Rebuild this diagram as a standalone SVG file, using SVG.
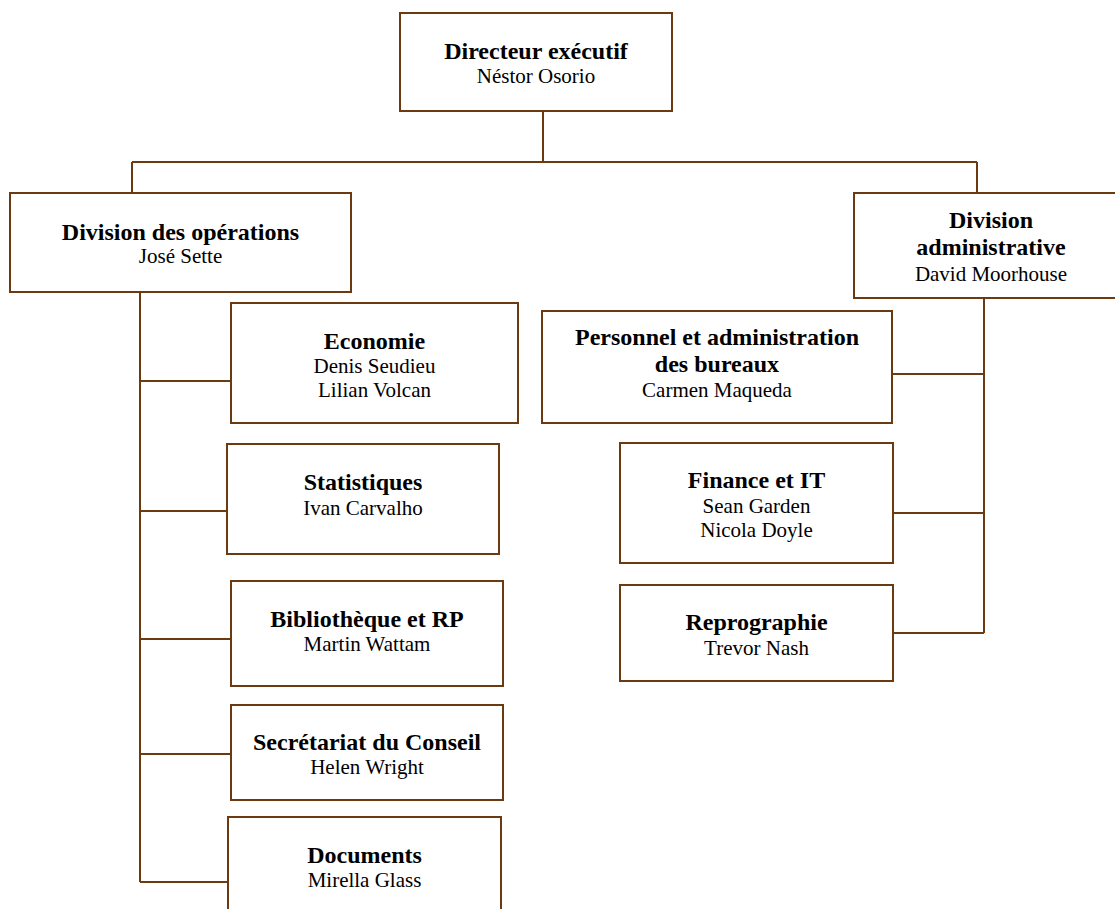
<svg xmlns="http://www.w3.org/2000/svg" width="1115" height="909" viewBox="0 0 1115 909">
<style>
.box{fill:#fff;stroke:#6b3a10;stroke-width:2}
.ln{fill:none;stroke:#6b3a10;stroke-width:2}
.t{font-family:"Liberation Serif","Times New Roman",serif;font-weight:bold;font-size:24px;fill:#000;text-anchor:middle}
.s{font-family:"Liberation Serif","Times New Roman",serif;font-size:21px;fill:#000;text-anchor:middle}
</style>
<rect width="1115" height="909" fill="#fff"/>
<g id="connectors">
<path class="ln" d="M543 111V162M132 162H977M132 162V193M977 162V193"/>
<path class="ln" d="M140 292V882M140 381H231M140 511H227M140 639H231M140 754H231M140 882H228"/>
<path class="ln" d="M984 298V633M892 374H984M893 513H984M893 633H984"/>
</g>
<g id="directeur">
<rect class="box" x="400" y="13" width="272" height="98"/>
<text class="t" x="536" y="59">Directeur exécutif</text>
<text class="s" x="536" y="83">Néstor Osorio</text>
</g>
<g id="operations">
<rect class="box" x="10" y="193" width="341" height="99"/>
<text class="t" x="180.5" y="240">Division des opérations</text>
<text class="s" x="180.5" y="263">José Sette</text>
</g>
<g id="administrative">
<rect class="box" x="854" y="193" width="274" height="105"/>
<text class="t" x="991" y="228">Division</text>
<text class="t" x="991" y="255">administrative</text>
<text class="s" x="991" y="281">David Moorhouse</text>
</g>
<g id="economie">
<rect class="box" x="231" y="303" width="287" height="120"/>
<text class="t" x="374.5" y="349">Economie</text>
<text class="s" x="374.5" y="373">Denis Seudieu</text>
<text class="s" x="374.5" y="397">Lilian Volcan</text>
</g>
<g id="statistiques">
<rect class="box" x="227" y="444" width="272" height="110"/>
<text class="t" x="363" y="490">Statistiques</text>
<text class="s" x="363" y="515">Ivan Carvalho</text>
</g>
<g id="bibliotheque">
<rect class="box" x="231" y="581" width="272" height="105"/>
<text class="t" x="367" y="627">Bibliothèque et RP</text>
<text class="s" x="367" y="651">Martin Wattam</text>
</g>
<g id="secretariat">
<rect class="box" x="231" y="705" width="272" height="95"/>
<text class="t" x="367" y="750">Secrétariat du Conseil</text>
<text class="s" x="367" y="774">Helen Wright</text>
</g>
<g id="documents">
<rect class="box" x="228" y="817" width="273" height="110"/>
<text class="t" x="364.5" y="863">Documents</text>
<text class="s" x="364.5" y="887">Mirella Glass</text>
</g>
<g id="personnel">
<rect class="box" x="542" y="311" width="350" height="112"/>
<text class="t" x="717" y="345">Personnel et administration</text>
<text class="t" x="717" y="372">des bureaux</text>
<text class="s" x="717" y="397">Carmen Maqueda</text>
</g>
<g id="finance">
<rect class="box" x="620" y="443" width="273" height="120"/>
<text class="t" x="756.5" y="488">Finance et IT</text>
<text class="s" x="756.5" y="513">Sean Garden</text>
<text class="s" x="756.5" y="537">Nicola Doyle</text>
</g>
<g id="reprographie">
<rect class="box" x="620" y="585" width="273" height="96"/>
<text class="t" x="756.5" y="630">Reprographie</text>
<text class="s" x="756.5" y="655">Trevor Nash</text>
</g>
</svg>
